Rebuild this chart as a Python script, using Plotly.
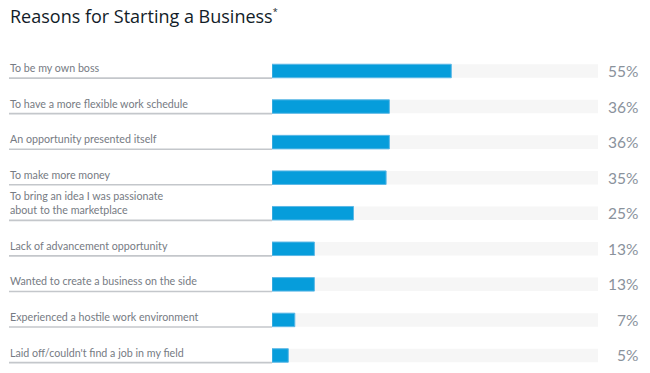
import plotly.graph_objects as go

categories = [
    "To be my own boss",
    "To have a more flexible work schedule",
    "An opportunity presented itself",
    "To make more money",
    "To bring an idea I was passionate<br>about to the marketplace",
    "Lack of advancement opportunity",
    "Wanted to create a business on the side",
    "Experienced a hostile work environment",
    "Laid off/couldn't find a job in my field",
]
values = [55, 36, 36, 35, 25, 13, 13, 7, 5]
value_labels = ["55%", "36%", "36%", "35%", "25%", "13%", "13%", "7%", "5%"]
title_text = "Reasons for Starting a Business<sup><span style='font-size:9px'>*</span></sup>"

W, H = 650, 373
pitch = 35.56
first_center = 71.0
n = len(categories)
ys = list(range(n))

fig = go.Figure()
fig.add_trace(go.Bar(
    x=[100] * n, y=ys, orientation="h", width=0.38,
    marker=dict(color="#f6f6f6", line=dict(width=0)),
    hoverinfo="skip", showlegend=False,
))
fig.add_trace(go.Bar(
    x=values, y=ys, orientation="h", width=0.38,
    marker=dict(color="#069ddb", line=dict(color="#5cb8e6", width=1)),
    showlegend=False,
))

shapes = []
annotations = []
for i, (cat, lab) in enumerate(zip(categories, value_labels)):
    line_y = i + 0.2
    shapes.append(dict(type="line", xref="paper", yref="y",
                       x0=9 / W, x1=272 / W, y0=line_y, y1=line_y,
                       line=dict(color="#c4c7cb", width=1.6)))
    annotations.append(dict(text=cat, xref="paper", yref="y",
                            x=9 / W, y=line_y, xanchor="left", yanchor="bottom",
                            align="left", showarrow=False, borderpad=0, yshift=3,
                            font=dict(family="Lato", size=10.7, color="#767b83")))
    annotations.append(dict(text=lab, xref="paper", yref="y",
                            x=639 / W, y=i, xanchor="right", yanchor="middle",
                            showarrow=False, borderpad=0,
                            font=dict(family="Lato", size=15.5, color="#8a929c")))

annotations.append(dict(text=title_text, xref="paper", yref="paper",
                        x=9 / W, y=1 - 3 / H, xanchor="left", yanchor="top",
                        showarrow=False, borderpad=0,
                        font=dict(family="Open Sans", size=18, color="#121c28")))

fig.update_layout(
    width=W, height=H,
    margin=dict(l=0, r=0, t=0, b=0),
    paper_bgcolor="white", plot_bgcolor="white",
    barmode="overlay",
    xaxis=dict(domain=[272 / W, 598 / W], range=[0, 100], visible=False, fixedrange=True),
    yaxis=dict(range=[(H - first_center) / pitch, -first_center / pitch],
               visible=False, fixedrange=True),
    shapes=shapes, annotations=annotations,
)

fig.write_html("out.html", config={"displayModeBar": False},
               post_script="document.body.style.margin='0';")
